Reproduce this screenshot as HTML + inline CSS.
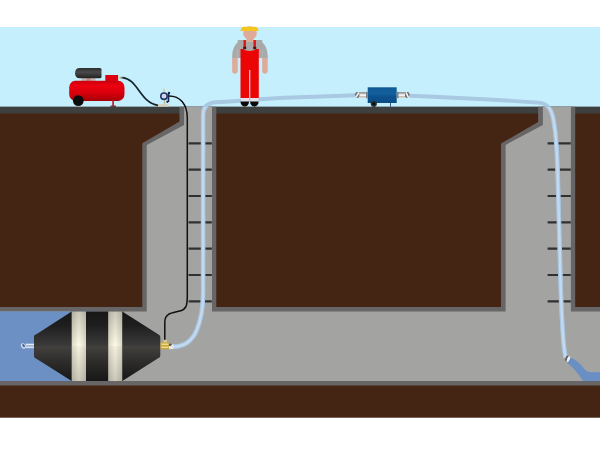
<!DOCTYPE html>
<html><head><meta charset="utf-8">
<style>
html,body{margin:0;padding:0;background:#fff;}
body{width:600px;height:450px;overflow:hidden;font-family:"Liberation Sans",sans-serif;}
svg{display:block;}
</style></head><body>
<svg width="600" height="450" viewBox="0 0 600 450">
<defs>
<linearGradient id="tank" x1="0" y1="0" x2="0" y2="1">
<stop offset="0" stop-color="#c8000c"/><stop offset="0.25" stop-color="#ee0010"/><stop offset="0.6" stop-color="#d8000c"/><stop offset="1" stop-color="#a80008"/>
</linearGradient>
<linearGradient id="motor" x1="0" y1="0" x2="0" y2="1">
<stop offset="0" stop-color="#2c2c2c"/><stop offset="0.4" stop-color="#4a4a4a"/><stop offset="1" stop-color="#222"/>
</linearGradient>
<linearGradient id="plug" x1="0" y1="0" x2="0" y2="1">
<stop offset="0" stop-color="#171717"/><stop offset="0.2" stop-color="#1e1e1e"/><stop offset="0.495" stop-color="#3b3b3b"/><stop offset="0.505" stop-color="#43403d"/><stop offset="0.75" stop-color="#2b2a29"/><stop offset="1" stop-color="#171717"/>
</linearGradient>
<linearGradient id="band" x1="0" y1="0" x2="1" y2="0">
<stop offset="0" stop-color="#dcd9c6"/><stop offset="0.5" stop-color="#fffbe9"/><stop offset="1" stop-color="#dcd9c6"/>
</linearGradient>
<linearGradient id="bandv" x1="0" y1="0" x2="0" y2="1">
<stop offset="0" stop-color="#000" stop-opacity="0.2"/><stop offset="0.495" stop-color="#000" stop-opacity="0"/><stop offset="0.505" stop-color="#000" stop-opacity="0.04"/><stop offset="1" stop-color="#000" stop-opacity="0.2"/>
</linearGradient>
<linearGradient id="bluebox" x1="0" y1="0" x2="0" y2="1">
<stop offset="0" stop-color="#0e5994"/><stop offset="0.4" stop-color="#14609c"/><stop offset="0.6" stop-color="#0c528e"/><stop offset="1" stop-color="#0a4c86"/>
</linearGradient>
</defs>
<rect width="600" height="450" fill="#fff"/>
<!-- sky -->
<rect x="0" y="27" width="600" height="81" fill="#c5effd"/>
<!-- earth -->
<rect x="0" y="106.8" width="600" height="310.9" fill="#442412"/>
<!-- ground band -->
<rect x="0" y="106.8" width="600" height="6.7" fill="#3e4040"/>
<!-- walls -->
<path d="M0,307 L142.3,307 L142.3,143.3 L179.5,121.6 L179.5,106.8 L216.3,106.8 L216.3,307 L501,307 L501,143.5 L538.1,122 L538.1,106.8 L575.2,106.8 L575.2,307 L600,307 L600,385.6 L0,385.6 Z" fill="#676565"/>
<path d="M0,311.4 L146.7,311.4 L146.7,144.9 L184.1,125 L184.1,106.8 L212,106.8 L212,311.4 L505.6,311.4 L505.6,144.9 L542.9,124.9 L542.9,106.8 L570.9,106.8 L570.9,311.4 L600,311.4 L600,381 L0,381 Z" fill="#a3a3a2"/>
<!-- water left -->
<rect x="0" y="311.5" width="100" height="69.5" fill="#6c90c4"/>
<!-- rungs -->
<g stroke="#303030" stroke-width="2.2">
<path d="M188.6,143.3H211.8M188.6,169.6H211.8M188.6,196H211.8M188.6,222.3H211.8M188.6,248.7H211.8M188.6,275H211.8M188.6,301.4H211.8"/>
<path d="M547.6,143.3H570.8M547.6,169.6H570.8M547.6,196H570.8M547.6,222.3H570.8M547.6,248.7H570.8M547.6,275H570.8M547.6,301.4H570.8"/>
</g>
<!-- water stream right -->
<path d="M570,357.5 C575,359 580,363 583.5,368 C586,371.5 589,372.2 593,372.2 L600,372.2 L600,381 L583,381 C580,376 575,369.5 567.5,363 Z" fill="#6a8fc5"/>
<!-- blue hose -->
<clipPath id="below"><rect x="0" y="107" width="600" height="300"/></clipPath>
<path d="M172.5,346.8 C185,346.8 192.5,340 196.6,330.5 C200.2,322 203.1,309 203.1,293 L203.1,115 C203.1,107 207,102.8 216,102.3 C240,101 262,98.8 285,97.8 L356,95.3" fill="none" stroke="#a9c8e1" stroke-width="3.9"/>
<path d="M410,95.7 Q470,98 538,102.6 C547,103 551.5,108 553.5,120 C554.5,126 555.2,131 555.6,135 C556.5,145 557.2,157 557.5,167 L560.8,290 C561.3,308 562.3,325 563.3,340 C563.9,348 564.8,353 565.6,357.5" fill="none" stroke="#a9c8e1" stroke-width="3.9"/>
<g clip-path="url(#below)"><path d="M172.5,346.8 C185,346.8 192.5,340 196.6,330.5 C200.2,322 203.1,309 203.1,293 L203.1,115 C203.1,107 207,102.8 216,102.3 C240,101 262,98.8 285,97.8 L356,95.3" fill="none" stroke="#a9c6e0" stroke-width="4.6"/><path d="M410,95.7 Q470,98 538,102.6 C547,103 551.5,108 553.5,120 C554.5,126 555.2,131 555.6,135 C556.5,145 557.2,157 557.5,167 L560.8,290 C561.3,308 562.3,325 563.3,340 C563.9,348 564.8,353 565.6,357.5" fill="none" stroke="#a9c6e0" stroke-width="4.6"/><path d="M172.5,346.8 C185,346.8 192.5,340 196.6,330.5 C200.2,322 203.1,309 203.1,293 L203.1,115 C203.1,107 207,102.8 216,102.3 C240,101 262,98.8 285,97.8 L356,95.3" fill="none" stroke="#c3d9ef" stroke-width="2.4"/><path d="M410,95.7 Q470,98 538,102.6 C547,103 551.5,108 553.5,120 C554.5,126 555.2,131 555.6,135 C556.5,145 557.2,157 557.5,167 L560.8,290 C561.3,308 562.3,325 563.3,340 C563.9,348 564.8,353 565.6,357.5" fill="none" stroke="#c3d9ef" stroke-width="2.4"/></g>

<!-- person -->
<g>
<!-- arms -->
<path d="M232.2,56 C232.2,47 237,40.3 244,40 L256,40 C263,40.3 267.7,47 267.7,56 L267.7,58.5 L262.2,58.5 L262.2,50 L237.7,50 L237.7,58.5 L232.2,58.5 Z" fill="#a9a9a9"/>
<rect x="237.7" y="40" width="24.5" height="18" fill="#a9a9a9"/>
<path d="M232.2,58 H237.7 V71 C237.7,74.6 232.2,74.6 232.2,71 Z" fill="#ddab98"/>
<path d="M262.2,58 H267.7 V71 C267.7,74.6 262.2,74.6 262.2,71 Z" fill="#ddab98"/>
<!-- head -->
<rect x="246.5" y="36" width="7" height="6" fill="#ddab98"/>
<ellipse cx="250" cy="33" rx="6.8" ry="6.8" fill="#ddab98"/>
<!-- hat -->
<path d="M240.3,31 L241.3,28.4 Q241.9,26.7 244,26.7 L255,26.7 Q257.1,26.7 257.7,28.4 L258.7,31 Z" fill="#f4c51e"/>
<!-- overalls -->
<path d="M240.5,49 L243.5,49 C245,51.5 254,51.5 255.8,49 L258.8,49 L258.8,98 L250.3,98 L250.3,70 L249.2,70 L249.2,98 L240.5,98 Z" fill="#ec0505"/>
<rect x="243.5" y="40" width="2.4" height="8" fill="#d81818"/>
<rect x="253.5" y="40" width="2.4" height="8" fill="#d81818"/>
<rect x="243.2" y="46.8" width="3" height="2.4" fill="#501010"/>
<rect x="253.2" y="46.8" width="3" height="2.4" fill="#501010"/>
<!-- ankles -->
<rect x="241" y="98" width="8" height="3.8" fill="#e4dfe6"/>
<rect x="250.5" y="98" width="8" height="3.8" fill="#e4dfe6"/>
<!-- shoes -->
<path d="M240.5,101.6 H249 C249,108.2 240.5,108.2 240.5,101.6 Z" fill="#0a0a0a"/>
<path d="M250.1,101.6 H258.6 C258.6,108.2 250.1,108.2 250.1,101.6 Z" fill="#0a0a0a"/>
</g>
<!-- compressor -->
<g>
<rect x="81.5" y="77.8" width="14" height="3.4" fill="#c9b4b4"/>
<rect x="86.5" y="77.8" width="4" height="3.4" fill="#b89090"/>
<path d="M80,68 H100 Q101.5,68 101.5,69.5 V76.8 Q101.5,78.3 100,78.3 H80 Q75,78.3 75,73.2 Q75,68 80,68 Z" fill="url(#motor)"/>
<rect x="105.3" y="75" width="12.8" height="8" fill="#dc0010"/>
<rect x="69.2" y="80.7" width="55.3" height="20.2" rx="6" ry="7" fill="url(#tank)"/>
<rect x="112.2" y="100.5" width="1.8" height="6" fill="#c02838"/>
<rect x="110.5" y="105.6" width="5.5" height="1.2" fill="#702028"/>
<circle cx="78.3" cy="100.6" r="5.4" fill="#0c0c0c"/>
<rect x="118" y="76.6" width="3" height="2" fill="#d8d0b0"/>
<rect x="120.5" y="76.8" width="2.5" height="1.8" fill="#888"/>
</g>
<!-- black hose from compressor -->
<path d="M122.5,77.6 C138,79 140,103 158,105.3" fill="none" stroke="#15252c" stroke-width="1.7"/>
<!-- gauge -->
<g>
<rect x="158" y="104.2" width="10.5" height="2.4" fill="#d6d2bc"/>
<rect x="163.8" y="99.5" width="1.4" height="5" fill="#c8c0a0"/>
<rect x="163.5" y="88.5" width="1.1" height="4" fill="#d4c090"/>
<path d="M168.5,93 V102" stroke="#1a2a48" stroke-width="1.6" fill="none"/>
<circle cx="169" cy="93" r="1.2" fill="#1a2a48"/>
<circle cx="167.3" cy="101.8" r="1.1" fill="#1a2a48"/>
<circle cx="164" cy="96.2" r="3.2" fill="#d6d6ea" stroke="#203a6c" stroke-width="1.6"/>
</g>
<!-- black hose from gauge down -->
<path d="M169,96 C180,96 187.3,104 187.3,118 L187.3,296 C187.3,306 186,309.5 180,311 C172,313 164.8,313 164.8,322 L164.8,340" fill="none" stroke="#111" stroke-width="1.5"/>
<!-- blue device -->
<g>
<rect x="390" y="102.5" width="0.9" height="4.2" fill="#1a5090"/>
<rect x="367.7" y="87.3" width="29" height="15.7" fill="url(#bluebox)"/>
<circle cx="373.8" cy="103.8" r="3.1" fill="#2a3238"/><circle cx="373.8" cy="103.8" r="1.5" fill="#0a0a0a"/>
<g id="coupL">
<rect x="358.5" y="92.2" width="8" height="5.7" fill="#d2d2d2"/>
<rect x="358.5" y="92.2" width="8" height="1.3" fill="#8c8c8c"/>
<rect x="358.5" y="94.4" width="8" height="1.8" fill="#f2f2f2"/>
<rect x="358.5" y="96.3" width="8" height="0.8" fill="#c4b6a4"/>
<rect x="366" y="91.9" width="1.8" height="6.3" fill="#7c828a"/>
<ellipse cx="357.2" cy="95.05" rx="2.3" ry="3" fill="#7a7a7a"/>
<path d="M355.6,97.4 L358.9,92.7" stroke="#fff" stroke-width="1.4"/>
</g>
<g transform="translate(764.5,0) scale(-1,1)">
<rect x="358.5" y="92.2" width="8" height="5.7" fill="#d2d2d2"/>
<rect x="358.5" y="92.2" width="8" height="1.3" fill="#8c8c8c"/>
<rect x="358.5" y="94.4" width="8" height="1.8" fill="#f2f2f2"/>
<rect x="358.5" y="96.3" width="8" height="0.8" fill="#c4b6a4"/>
<rect x="366" y="91.9" width="1.8" height="6.3" fill="#7c828a"/>
<ellipse cx="357.2" cy="95.05" rx="2.3" ry="3" fill="#6a6a6a"/>
<path d="M356.0,97.6 L358.4,92.5" stroke="#fff" stroke-width="1.5"/>
</g>
</g>
<!-- plug -->
<g>
<path d="M36,334.5 Q34,334.5 34,336.5 L34,356 Q34,358 36,358.5 L71.7,381 L122.3,381 L158.5,358 Q160.3,357.5 160.3,355.5 L160.3,337 Q160.3,335 158.5,334.5 L122.3,311.5 L71.7,311.5 Z" fill="url(#plug)"/>
<rect x="71.7" y="311.5" width="14.3" height="69.5" fill="url(#band)"/>
<rect x="108.2" y="311.5" width="14" height="69.5" fill="url(#band)"/>
<rect x="71.7" y="311.5" width="14.3" height="69.5" fill="url(#bandv)"/>
<rect x="108.2" y="311.5" width="14" height="69.5" fill="url(#bandv)"/>
<!-- left fitting -->
<rect x="25" y="343.4" width="9" height="5" fill="#9db2cf"/>
<rect x="26" y="343.9" width="8" height="1.2" fill="#e2eaf3"/>
<rect x="26" y="346.7" width="8" height="1.2" fill="#dbe5f0"/>
<ellipse cx="23.3" cy="346" rx="2.2" ry="2.9" fill="#d0dcec" transform="rotate(-35 23.3 346)"/>
<ellipse cx="23.6" cy="345.6" rx="1.1" ry="1.8" fill="#46629a" transform="rotate(-35 23.6 345.6)"/>
<!-- right fitting -->
<rect x="160.4" y="342.3" width="8.8" height="7" rx="1" fill="#c9a63a"/>
<rect x="161.5" y="343.6" width="7" height="1.2" fill="#f2e6a0"/>
<rect x="161.5" y="346.6" width="7" height="1.2" fill="#f2e6a0"/>
<rect x="163.6" y="339.8" width="3.4" height="2.7" fill="#d8c88c"/>
<path d="M169,343.3 L173.6,344.3 L173.6,349 L169,349.3 Z" fill="#e4e4ec"/>
<path d="M169,343.3 L172.5,344 L170.5,346 L169,346 Z" fill="#555a66"/>
</g>
<!-- nozzle right -->
<g transform="rotate(22 567.8 358.8)"><ellipse cx="566.9" cy="358.8" rx="1.5" ry="3" fill="#555"/><ellipse cx="568.5" cy="358.8" rx="1.4" ry="3" fill="#f0f0f0"/></g>
</svg>
</body></html>
